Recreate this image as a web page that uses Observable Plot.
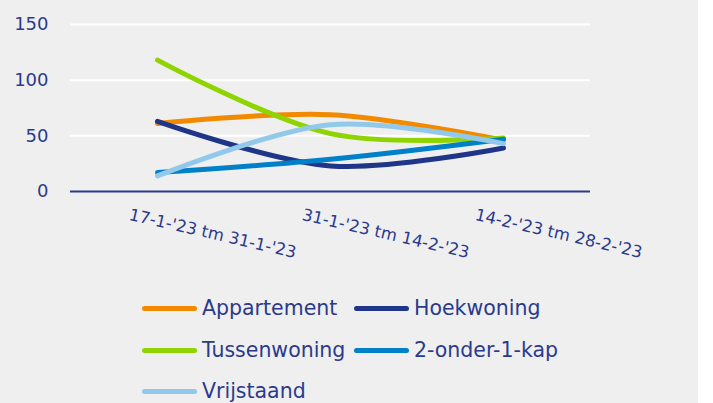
<!DOCTYPE html>
<html>
<head>
<meta charset="utf-8">
<script src="https://cdn.jsdelivr.net/npm/d3@7"></script>
<script src="https://cdn.jsdelivr.net/npm/@observablehq/plot@0.6"></script>
<style>
  html, body { margin: 0; padding: 0; background: #ffffff; }
  #wrap { position: relative; width: 698px; height: 403px; background: #efefef; overflow: hidden;
          font-family: "DejaVu Sans", sans-serif; color: #2b3a8c; }
  #chart { position: absolute; left: 0; top: 0; }
  .leg { position: absolute; display: flex; align-items: center; font-size: 20.5px; white-space: nowrap; }
  .sw { width: 55px; height: 5px; border-radius: 3px; margin-right: 5px; }
</style>
</head>
<body>
<div id="wrap">
  <div id="chart"></div>
  <div id="legend"></div>
</div>
<script>
const categories = ["17-1-'23 tm 31-1-'23", "31-1-'23 tm 14-2-'23", "14-2-'23 tm 28-2-'23"];
const seriesNames = ["Appartement", "Hoekwoning", "Tussenwoning", "2-onder-1-kap", "Vrijstaand"];
const seriesColors = ["#f28a00", "#1f3587", "#8fd400", "#0080c8", "#92c9ea"];
const appartement = [61, 69, 46];
const hoekwoning = [63, 23, 39];
const tussenwoning = [118, 52, 48];
const tweeOnderEenKap = [17, 29, 47];
const vrijstaand = [14, 60, 43];
const yTicks = [0, 50, 100, 150];

const seriesValues = [appartement, hoekwoning, tussenwoning, tweeOnderEenKap, vrijstaand];
const data = [];
seriesNames.forEach((s, i) => categories.forEach((c, j) => data.push({series: s, cat: c, value: seriesValues[i][j]})));

const textColor = "#2b3a8c";
const chart = Plot.plot({
  width: 698,
  height: 278,
  marginLeft: 70,
  marginRight: 108,
  marginTop: 24,
  marginBottom: 87,
  style: {background: "transparent", fontFamily: "DejaVu Sans, sans-serif", fontSize: "18px", color: textColor},
  x: {type: "point", domain: categories, padding: 0.5, label: null},
  y: {domain: [0, 150], label: null},
  color: {domain: seriesNames, range: seriesColors},
  marks: [
    Plot.ruleY(yTicks.filter(d => d > 0), {stroke: "#ffffff", strokeWidth: 2}),
    Plot.ruleY([0], {stroke: "#2b3a8c", strokeWidth: 2}),
    Plot.axisY({ticks: yTicks, tickSize: 0, tickPadding: 22, label: null, fill: textColor, fontSize: 18}),
    Plot.axisX({tickSize: 0, tickRotate: 13, textAnchor: "start", tickPadding: 23, dx: -28, label: null, fill: textColor, fontSize: 16.5}),
    Plot.line(data, {x: "cat", y: "value", z: "series", stroke: "series", strokeWidth: 5,
      strokeLinecap: "round", strokeLinejoin: "round", curve: "catmull-rom"})
  ]
});
document.getElementById("chart").appendChild(chart);

const legend = document.getElementById("legend");
const legPos = [[142, 308], [354, 308], [142, 350], [354, 350], [142, 391]];
seriesNames.forEach((s, i) => {
  const d = document.createElement("div");
  d.className = "leg";
  d.style.left = legPos[i][0] + "px";
  d.style.top = (legPos[i][1] - 12) + "px";
  d.style.height = "24px";
  d.innerHTML = `<span class="sw" style="background:${seriesColors[i]}"></span><span>${s}</span>`;
  legend.appendChild(d);
});
</script>
</body>
</html>
